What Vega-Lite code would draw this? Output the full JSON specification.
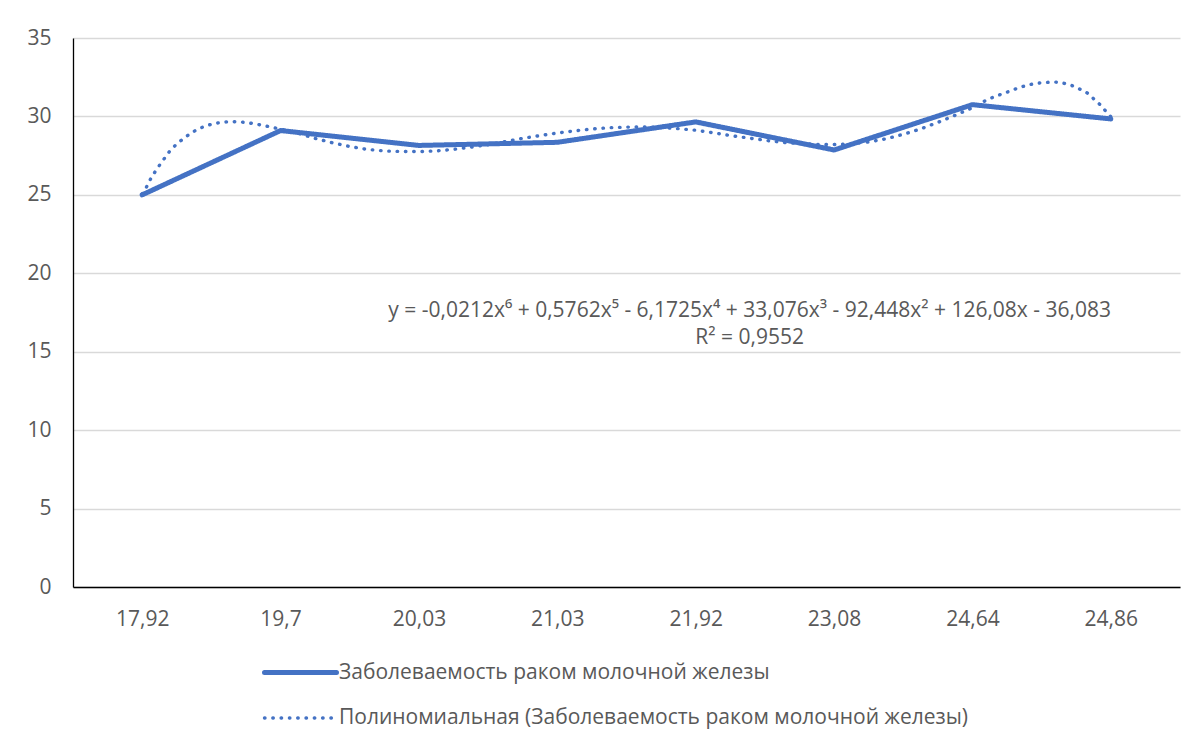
{
  "$schema": "https://vega.github.io/schema/vega-lite/v6.json",
  "width": 1107,
  "height": 549,
  "autosize": {"type": "none"},
  "padding": {"left": 73, "top": 38, "right": 15, "bottom": 157},
  "background": "white",
  "config": {"view": {"stroke": null}, "font": "Open Sans"},
  "datasets": {
    "lines": [
      {"x": 1, "y": 25.0, "s": "Заболеваемость раком молочной железы"},
      {"x": 2, "y": 29.1, "s": "Заболеваемость раком молочной железы"},
      {"x": 3, "y": 28.15, "s": "Заболеваемость раком молочной железы"},
      {"x": 4, "y": 28.35, "s": "Заболеваемость раком молочной железы"},
      {"x": 5, "y": 29.65, "s": "Заболеваемость раком молочной железы"},
      {"x": 6, "y": 27.86, "s": "Заболеваемость раком молочной железы"},
      {"x": 7, "y": 30.75, "s": "Заболеваемость раком молочной железы"},
      {"x": 8, "y": 29.84, "s": "Заболеваемость раком молочной железы"},
      {"x": 1.0, "y": 25.05, "s": "Полиномиальная (Заболеваемость раком молочной железы)"},
      {"x": 1.03, "y": 25.48, "s": "Полиномиальная (Заболеваемость раком молочной железы)"},
      {"x": 1.06, "y": 26.0, "s": "Полиномиальная (Заболеваемость раком молочной железы)"},
      {"x": 1.095, "y": 26.5, "s": "Полиномиальная (Заболеваемость раком молочной железы)"},
      {"x": 1.13, "y": 26.95, "s": "Полиномиальная (Заболеваемость раком молочной железы)"},
      {"x": 1.166, "y": 27.39, "s": "Полиномиальная (Заболеваемость раком молочной железы)"},
      {"x": 1.2, "y": 27.8, "s": "Полиномиальная (Заболеваемость раком молочной железы)"},
      {"x": 1.25, "y": 28.25, "s": "Полиномиальная (Заболеваемость раком молочной железы)"},
      {"x": 1.3, "y": 28.6, "s": "Полиномиальная (Заболеваемость раком молочной железы)"},
      {"x": 1.35, "y": 28.92, "s": "Полиномиальная (Заболеваемость раком молочной железы)"},
      {"x": 1.4, "y": 29.18, "s": "Полиномиальная (Заболеваемость раком молочной железы)"},
      {"x": 1.46, "y": 29.4, "s": "Полиномиальная (Заболеваемость раком молочной железы)"},
      {"x": 1.52, "y": 29.55, "s": "Полиномиальная (Заболеваемость раком молочной железы)"},
      {"x": 1.59, "y": 29.64, "s": "Полиномиальная (Заболеваемость раком молочной железы)"},
      {"x": 1.65, "y": 29.67, "s": "Полиномиальная (Заболеваемость раком молочной железы)"},
      {"x": 1.71, "y": 29.65, "s": "Полиномиальная (Заболеваемость раком молочной железы)"},
      {"x": 1.77, "y": 29.59, "s": "Полиномиальная (Заболеваемость раком молочной железы)"},
      {"x": 1.83, "y": 29.5, "s": "Полиномиальная (Заболеваемость раком молочной железы)"},
      {"x": 1.89, "y": 29.4, "s": "Полиномиальная (Заболеваемость раком молочной железы)"},
      {"x": 1.95, "y": 29.28, "s": "Полиномиальная (Заболеваемость раком молочной железы)"},
      {"x": 2.0, "y": 29.2, "s": "Полиномиальная (Заболеваемость раком молочной железы)"},
      {"x": 2.125, "y": 28.93, "s": "Полиномиальная (Заболеваемость раком молочной железы)"},
      {"x": 2.25, "y": 28.6, "s": "Полиномиальная (Заболеваемость раком молочной железы)"},
      {"x": 2.375, "y": 28.32, "s": "Полиномиальная (Заболеваемость раком молочной железы)"},
      {"x": 2.5, "y": 28.08, "s": "Полиномиальная (Заболеваемость раком молочной железы)"},
      {"x": 2.625, "y": 27.9, "s": "Полиномиальная (Заболеваемость раком молочной железы)"},
      {"x": 2.75, "y": 27.8, "s": "Полиномиальная (Заболеваемость раком молочной железы)"},
      {"x": 2.875, "y": 27.76, "s": "Полиномиальная (Заболеваемость раком молочной железы)"},
      {"x": 3.0, "y": 27.76, "s": "Полиномиальная (Заболеваемость раком молочной железы)"},
      {"x": 3.125, "y": 27.8, "s": "Полиномиальная (Заболеваемость раком молочной железы)"},
      {"x": 3.25, "y": 27.9, "s": "Полиномиальная (Заболеваемость раком молочной железы)"},
      {"x": 3.375, "y": 28.04, "s": "Полиномиальная (Заболеваемость раком молочной железы)"},
      {"x": 3.5, "y": 28.2, "s": "Полиномиальная (Заболеваемость раком молочной железы)"},
      {"x": 3.625, "y": 28.4, "s": "Полиномиальная (Заболеваемость раком молочной железы)"},
      {"x": 3.75, "y": 28.6, "s": "Полиномиальная (Заболеваемость раком молочной железы)"},
      {"x": 3.875, "y": 28.78, "s": "Полиномиальная (Заболеваемость раком молочной железы)"},
      {"x": 4.0, "y": 28.94, "s": "Полиномиальная (Заболеваемость раком молочной железы)"},
      {"x": 4.125, "y": 29.08, "s": "Полиномиальная (Заболеваемость раком молочной железы)"},
      {"x": 4.25, "y": 29.2, "s": "Полиномиальная (Заболеваемость раком молочной железы)"},
      {"x": 4.375, "y": 29.28, "s": "Полиномиальная (Заболеваемость раком молочной железы)"},
      {"x": 4.5, "y": 29.32, "s": "Полиномиальная (Заболеваемость раком молочной железы)"},
      {"x": 4.625, "y": 29.33, "s": "Полиномиальная (Заболеваемость раком молочной железы)"},
      {"x": 4.75, "y": 29.3, "s": "Полиномиальная (Заболеваемость раком молочной железы)"},
      {"x": 4.875, "y": 29.22, "s": "Полиномиальная (Заболеваемость раком молочной железы)"},
      {"x": 5.0, "y": 29.12, "s": "Полиномиальная (Заболеваемость раком молочной железы)"},
      {"x": 5.125, "y": 28.96, "s": "Полиномиальная (Заболеваемость раком молочной железы)"},
      {"x": 5.25, "y": 28.78, "s": "Полиномиальная (Заболеваемость раком молочной железы)"},
      {"x": 5.375, "y": 28.63, "s": "Полиномиальная (Заболеваемость раком молочной железы)"},
      {"x": 5.5, "y": 28.48, "s": "Полиномиальная (Заболеваемость раком молочной железы)"},
      {"x": 5.625, "y": 28.35, "s": "Полиномиальная (Заболеваемость раком молочной железы)"},
      {"x": 5.75, "y": 28.27, "s": "Полиномиальная (Заболеваемость раком молочной железы)"},
      {"x": 5.875, "y": 28.22, "s": "Полиномиальная (Заболеваемость раком молочной железы)"},
      {"x": 6.0, "y": 28.21, "s": "Полиномиальная (Заболеваемость раком молочной железы)"},
      {"x": 6.125, "y": 28.26, "s": "Полиномиальная (Заболеваемость раком молочной железы)"},
      {"x": 6.25, "y": 28.37, "s": "Полиномиальная (Заболеваемость раком молочной железы)"},
      {"x": 6.375, "y": 28.57, "s": "Полиномиальная (Заболеваемость раком молочной железы)"},
      {"x": 6.5, "y": 28.86, "s": "Полиномиальная (Заболеваемость раком молочной железы)"},
      {"x": 6.625, "y": 29.2, "s": "Полиномиальная (Заболеваемость раком молочной железы)"},
      {"x": 6.75, "y": 29.62, "s": "Полиномиальная (Заболеваемость раком молочной железы)"},
      {"x": 6.875, "y": 30.07, "s": "Полиномиальная (Заболеваемость раком молочной железы)"},
      {"x": 7.0, "y": 30.55, "s": "Полиномиальная (Заболеваемость раком молочной железы)"},
      {"x": 7.05, "y": 30.79, "s": "Полиномиальная (Заболеваемость раком молочной железы)"},
      {"x": 7.1, "y": 31.04, "s": "Полиномиальная (Заболеваемость раком молочной железы)"},
      {"x": 7.16, "y": 31.26, "s": "Полиномиальная (Заболеваемость раком молочной железы)"},
      {"x": 7.22, "y": 31.45, "s": "Полиномиальная (Заболеваемость раком молочной железы)"},
      {"x": 7.28, "y": 31.64, "s": "Полиномиальная (Заболеваемость раком молочной железы)"},
      {"x": 7.34, "y": 31.85, "s": "Полиномиальная (Заболеваемость раком молочной железы)"},
      {"x": 7.4, "y": 32.0, "s": "Полиномиальная (Заболеваемость раком молочной железы)"},
      {"x": 7.46, "y": 32.11, "s": "Полиномиальная (Заболеваемость раком молочной железы)"},
      {"x": 7.52, "y": 32.16, "s": "Полиномиальная (Заболеваемость раком молочной железы)"},
      {"x": 7.59, "y": 32.2, "s": "Полиномиальная (Заболеваемость раком молочной железы)"},
      {"x": 7.65, "y": 32.14, "s": "Полиномиальная (Заболеваемость раком молочной железы)"},
      {"x": 7.71, "y": 32.0, "s": "Полиномиальная (Заболеваемость раком молочной железы)"},
      {"x": 7.77, "y": 31.77, "s": "Полиномиальная (Заболеваемость раком молочной железы)"},
      {"x": 7.83, "y": 31.49, "s": "Полиномиальная (Заболеваемость раком молочной железы)"},
      {"x": 7.87, "y": 31.17, "s": "Полиномиальная (Заболеваемость раком молочной железы)"},
      {"x": 7.92, "y": 30.77, "s": "Полиномиальная (Заболеваемость раком молочной железы)"},
      {"x": 7.96, "y": 30.37, "s": "Полиномиальная (Заболеваемость раком молочной железы)"},
      {"x": 8.0, "y": 29.98, "s": "Полиномиальная (Заболеваемость раком молочной железы)"}
    ],
    "eq": [
      {"x": 5.39, "y": 17.6, "t": "y = -0,0212x⁶ + 0,5762x⁵ - 6,1725x⁴ + 33,076x³ - 92,448x² + 126,08x - 36,083"},
      {"x": 5.39, "y": 15.87, "t": "R² = 0,9552"}
    ]
  },
  "layer": [
    {
      "data": {"name": "lines"},
      "mark": {"type": "line", "strokeCap": "round", "strokeJoin": "round"},
      "encoding": {
        "x": {
          "field": "x", "type": "quantitative",
          "scale": {"domain": [0.5, 8.5], "nice": false, "zero": false},
          "axis": {
            "title": null, "values": [1, 2, 3, 4, 5, 6, 7, 8],
            "labelExpr": "['17,92','19,7','20,03','21,03','21,92','23,08','24,64','24,86'][datum.value - 1]",
            "grid": false, "ticks": false, "domainColor": "#000000", "domainWidth": 1.3,
            "labelFontSize": 21, "labelColor": "#595959", "labelPadding": 21,
            "labelFlush": false, "labelOverlap": false
          }
        },
        "y": {
          "field": "y", "type": "quantitative",
          "scale": {"domain": [0, 35], "nice": false},
          "axis": {
            "title": null, "values": [0, 5, 10, 15, 20, 25, 30, 35],
            "grid": true, "gridColor": "#D9D9D9", "gridWidth": 1.5,
            "ticks": false, "domainColor": "#000000", "domainWidth": 1.3,
            "labelFontSize": 21, "labelColor": "#595959", "labelPadding": 22,
            "labelFlush": false, "labelOverlap": false
          }
        },
        "color": {
          "field": "s", "type": "nominal",
          "scale": {"domain": ["Заболеваемость раком молочной железы", "Полиномиальная (Заболеваемость раком молочной железы)"], "range": ["#4472C4", "#4472C4"]},
          "legend": {"title": null, "orient": "none", "legendX": 213, "legendY": 620, "direction": "vertical", "symbolType": "M-3,0H3", "symbolSize": 576, "labelFontSize": 21, "labelColor": "#595959", "labelOffset": 24, "labelLimit": 0, "rowPadding": 21, "encode": {"symbols": {"update": {"strokeCap": {"value": "round"}}}}}
        },
        "strokeDash": {
          "field": "s", "type": "nominal",
          "scale": {"domain": ["Заболеваемость раком молочной железы", "Полиномиальная (Заболеваемость раком молочной железы)"], "range": [[1, 0], [0.5, 7.8]]},
          "legend": {"title": null, "orient": "none", "legendX": 213, "legendY": 620, "direction": "vertical", "symbolType": "M-3,0H3", "symbolSize": 576, "labelFontSize": 21, "labelColor": "#595959", "labelOffset": 24, "labelLimit": 0, "rowPadding": 21, "encode": {"symbols": {"update": {"strokeCap": {"value": "round"}}}}}
        },
        "strokeWidth": {
          "field": "s", "type": "nominal",
          "scale": {"domain": ["Заболеваемость раком молочной железы", "Полиномиальная (Заболеваемость раком молочной железы)"], "range": [5, 3.4]},
          "legend": {"title": null, "orient": "none", "legendX": 213, "legendY": 620, "direction": "vertical", "symbolType": "M-3,0H3", "symbolSize": 576, "labelFontSize": 21, "labelColor": "#595959", "labelOffset": 24, "labelLimit": 0, "rowPadding": 21, "encode": {"symbols": {"update": {"strokeCap": {"value": "round"}}}}}
        }
      }
    },
    {
      "data": {"name": "eq"},
      "mark": {"type": "text", "fontSize": 21, "color": "#595959", "align": "center", "baseline": "middle"},
      "encoding": {
        "x": {"field": "x", "type": "quantitative"},
        "y": {"field": "y", "type": "quantitative"},
        "text": {"field": "t"}
      }
    }
  ]
}
